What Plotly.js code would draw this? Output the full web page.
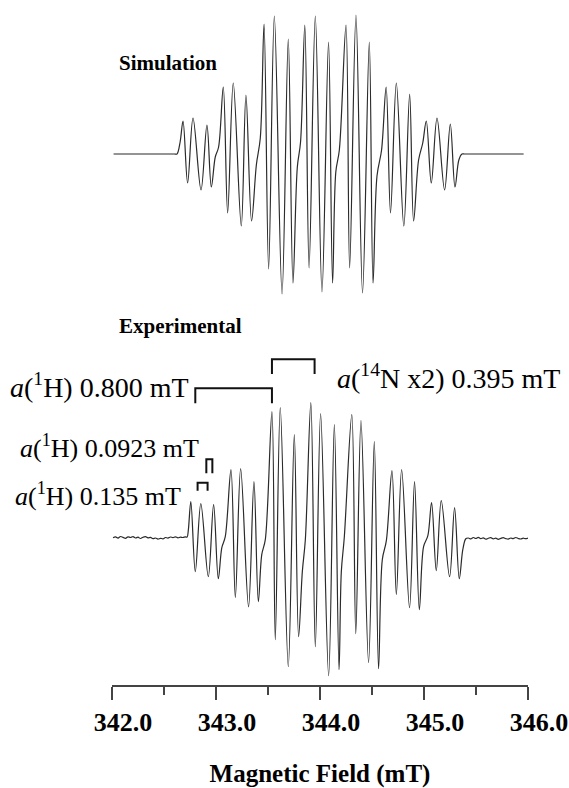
<!DOCTYPE html>
<html>
<head>
<meta charset="utf-8">
<script src="https://cdn.plot.ly/plotly-3.0.1.min.js"></script>
<style>html,body{margin:0;padding:0;background:#fff;}#chart{width:569px;height:788px;}</style>
</head>
<body>
<div id="chart"></div>
<script>
// Simulated spectrum: magnetic field (mT) and derivative signal (a.u.)
var simField = [342.015,342.300,342.500,342.600,342.625,342.655,342.683,342.727,342.779,342.856,342.913,342.955,342.993,343.025,
  343.070,343.112,343.166,343.243,343.288,343.342,343.388,343.426,343.462,343.506,343.561,343.635,343.695,343.740,
  343.782,343.813,343.854,343.895,343.955,344.019,344.082,344.121,344.152,344.186,344.250,344.285,344.346,344.409,
  344.474,344.510,344.548,344.592,344.636,344.678,344.734,344.806,344.862,344.900,344.948,344.988,345.022,345.070,
  345.125,345.198,345.253,345.298,345.335,345.365,345.390,345.500,345.700,345.958];
var simSignal = [0,0,0,0,0,12,33,-29,36,-36,29,-33,-3,7,
  67,-59,71,-72,59,-67,-11,16,130,-115,138,-140,115,-129,
  -13,12,129,-114,138,-138,112,-129,-18,4,129,-114,139,-139,
  112,-129,-22,4,67,-59,71,-72,60,-67,-6,11,33,-29,
  36,-36,30,-33,-6,0,0,0,0,0];

// Experimental spectrum
var expField = [342.010,342.034,342.058,342.082,342.106,342.130,342.154,342.178,342.202,342.226,
  342.250,342.274,342.298,342.322,342.346,342.370,342.394,342.418,342.442,342.466,
  342.490,342.514,342.538,342.562,342.586,342.610,342.634,342.658,342.682,342.706,342.722,
  342.734,342.758,342.801,342.854,342.926,342.977,343.022,343.056,343.089,
  343.144,343.186,343.237,343.313,343.365,343.407,343.440,343.474,
  343.538,343.570,343.618,343.695,343.753,343.794,343.830,343.859,
  343.912,343.955,344.006,344.083,344.138,344.183,344.205,344.234,
  344.306,344.344,344.394,344.467,344.522,344.563,344.599,344.638,
  344.692,344.734,344.785,344.861,344.909,344.955,344.996,345.037,
  345.073,345.118,345.166,345.246,345.294,345.339,345.373,345.402,
  345.426,345.450,345.474,345.498,345.522,345.546,345.570,345.594,345.618,345.642,
  345.666,345.690,345.714,345.738,345.762,345.786,345.810,345.834,345.858,345.882,
  345.906,345.930,345.954,345.978,346.000];
var expSignal = [0,0.8,-0.4,1.2,0.3,-0.6,0.9,0.2,1.1,-0.3,
  0.5,-0.8,0.4,1.0,-0.2,0.3,-1.0,-0.3,-1.4,-0.6,
  -1.1,0.2,-0.4,0.7,0.1,0.9,-0.2,0.6,0.2,0.8,0.6,
  7.7,36,-34,34,-39,33,-41,-10,1,
  68,-60,69,-69,56,-64,-17,-2,
  126,-102,130,-129,103,-99,-34,-2,
  135,-109,124,-138,113,-132,-34,1,
  123,-96,117,-125,96,-131,-22,-3,
  67,-57,68,-70,56,-72,-9,2,
  35,-33,37,-39,30,-41,-12,-1,
  -0.3,-1.2,0.2,-0.8,0.4,-1.0,-0.2,-1.5,-0.6,0.1,
  -1.1,-0.4,-1.6,-0.7,0.0,-0.9,-1.4,-0.3,-1.0,0.2,
  -0.8,-1.3,-0.5,-1.0,-0.4];

// Hyperfine coupling brackets (field in mT, height in experimental a.u.)
var bracketStart = [342.801, 343.538, 342.907, 342.823];
var bracketEnd   = [343.538, 343.948, 342.965, 342.919];
var bracketTop   = [149.4, 178.4, 78.4, 55.0];
var bracketLeg   = [134.4, 163.7, 64.4, 47.0];

var labelTexts = ['<i>a</i>(<sup>1</sup>H) 0.800 mT', '<i>a</i>(<sup>14</sup>N x2) 0.395 mT',
                  '<i>a</i>(<sup>1</sup>H) 0.0923 mT', '<i>a</i>(<sup>1</sup>H) 0.135 mT'];

var serif = 'Liberation Serif, Times New Roman, serif';
var lineColor = '#2b2b2b';

var traces = [
  {x: simField, y: simSignal, type: 'scatter', mode: 'lines', xaxis: 'x', yaxis: 'y2',
   line: {color: lineColor, width: 1.2, shape: 'spline', smoothing: 1}, hoverinfo: 'skip', showlegend: false},
  {x: expField, y: expSignal, type: 'scatter', mode: 'lines', xaxis: 'x', yaxis: 'y',
   line: {color: lineColor, width: 1.2, shape: 'spline', smoothing: 1}, hoverinfo: 'skip', showlegend: false}
];

var shapes = [];
for (var i = 0; i < bracketStart.length; i++) {
  shapes.push({type: 'path', xref: 'x', yref: 'y',
    path: 'M' + bracketStart[i] + ',' + bracketLeg[i] + ' L' + bracketStart[i] + ',' + bracketTop[i] +
          ' L' + bracketEnd[i] + ',' + bracketTop[i] + ' L' + bracketEnd[i] + ',' + bracketLeg[i],
    line: {color: '#111', width: 2}});
}

var labelPos = [[-0.25, 0.4371, 28], [0.536, 0.4510, 28], [-0.226, 0.3482, 26], [-0.238, 0.2788, 26]];
var annotations = [
  {text: 'Simulation', xref: 'paper', yref: 'paper', x: 0.012, y: 0.9073, xanchor: 'left', yanchor: 'middle',
   showarrow: false, font: {family: serif, size: 21, color: '#000', weight: 'bold'}},
  {text: 'Experimental', xref: 'paper', yref: 'paper', x: 0.012, y: 0.5241, xanchor: 'left', yanchor: 'middle',
   showarrow: false, font: {family: serif, size: 21, color: '#000', weight: 'bold'}}
];
for (var j = 0; j < labelTexts.length; j++) {
  annotations.push({text: labelTexts[j], xref: 'paper', yref: 'paper', x: labelPos[j][0], y: labelPos[j][1],
    xanchor: 'left', yanchor: 'middle', showarrow: false,
    font: {family: serif, size: labelPos[j][2], color: '#000'}});
}

var layout = {
  width: 569, height: 788,
  margin: {l: 112, r: 41, t: 0, b: 103, pad: 0},
  paper_bgcolor: '#fff', plot_bgcolor: '#fff',
  showlegend: false,
  xaxis: {
    range: [342, 346], dtick: 1, tick0: 342, tickformat: '.1f',
    showgrid: false, zeroline: false, showline: true, linecolor: '#444', linewidth: 1.5,
    ticks: 'outside', ticklen: 13, tickwidth: 1.5, tickcolor: '#444',
    minor: {dtick: 0.5, ticks: 'outside', ticklen: 8, tickwidth: 1.5, tickcolor: '#444', showgrid: false},
    tickfont: {family: serif, size: 26, color: '#000', weight: 'bold'},
    ticklabelshift: 11,
    title: {text: 'Magnetic Field (mT)', font: {family: serif, size: 25, color: '#000', weight: 'bold'}, standoff: 34},
    automargin: false, fixedrange: true
  },
  yaxis: {domain: [0, 0.48905], range: [-147.3, 187.7], visible: false, fixedrange: true},
  yaxis2: {domain: [0.56204, 1], range: [-146, 154], visible: false, fixedrange: true},
  shapes: shapes,
  annotations: annotations
};

Plotly.newPlot('chart', traces, layout, {staticPlot: true, displayModeBar: false});
</script>
</body>
</html>
